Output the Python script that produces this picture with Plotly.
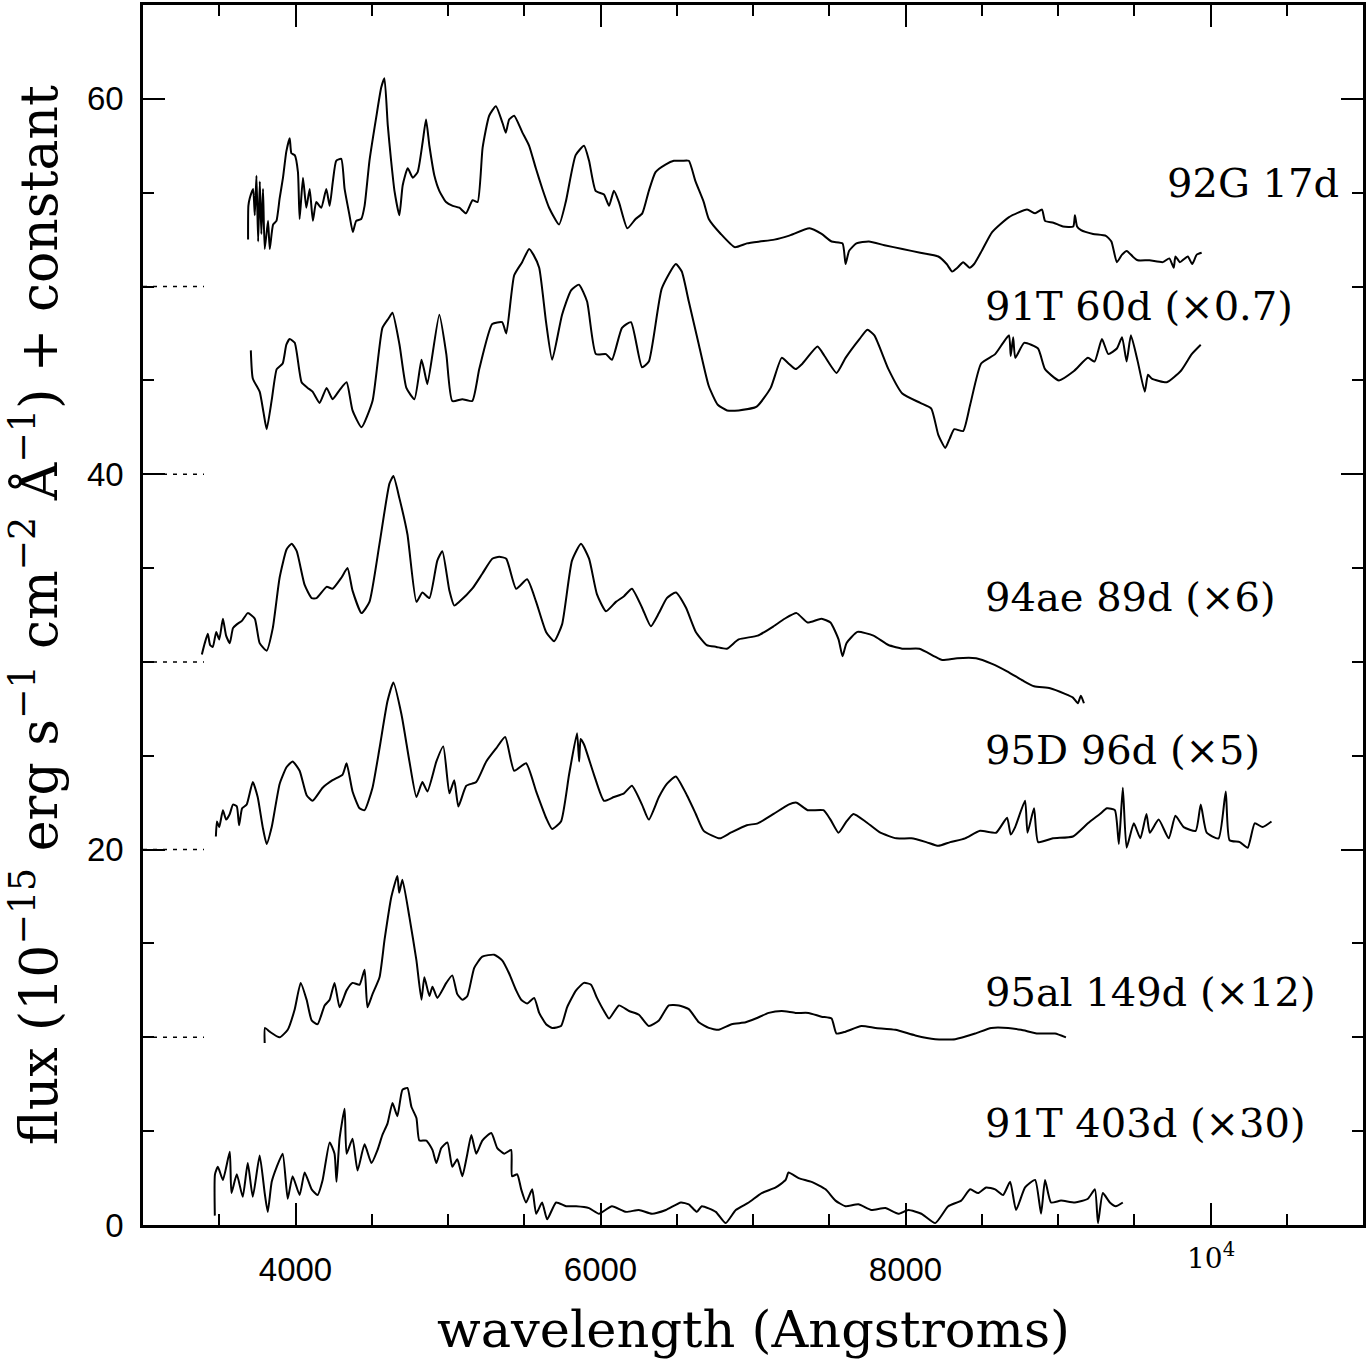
import plotly.graph_objects as go

# ---------------- data (wavelength in Angstrom, flux + constant) ----------------
sn92g_wl = [3689, 3691, 3700, 3722, 3733, 3744, 3755, 3766, 3776, 3787, 3798, 3820, 3831, 3853, 3875,
            3896, 3918, 3940, 3962, 3973, 3995, 4016, 4027, 4049, 4071, 4093, 4114, 4136, 4169, 4202,
            4224, 4245, 4267, 4300, 4322, 4354, 4376, 4398, 4431, 4453, 4485, 4529, 4562, 4583, 4605,
            4627, 4649, 4681, 4703, 4736, 4769, 4801, 4834, 4856, 4878, 4911, 4943, 4987, 5031, 5074,
            5118, 5161, 5194, 5227, 5270, 5314, 5358, 5379, 5401, 5434, 5488, 5532, 5576, 5619, 5663,
            5728, 5772, 5837, 5892, 5925, 5968, 6023, 6056, 6088, 6121, 6176, 6230, 6274, 6317, 6361,
            6426, 6481, 6535, 6579, 6623, 6677, 6710, 6789, 6880, 6960, 7044, 7140, 7233, 7371, 7450,
            7515, 7587, 7607, 7630, 7678, 7760, 7862, 7980, 8097, 8215, 8270, 8306, 8340, 8378, 8420,
            8450, 8500, 8568, 8679, 8797, 8850, 8895, 8915, 8970, 9033, 9100, 9111, 9125, 9151, 9230,
            9314, 9350, 9386, 9420, 9451, 9490, 9523, 9600, 9687, 9730, 9759, 9770, 9800, 9851, 9880,
            9910, 9942]
sn92g_fl = [52.5, 54.3, 54.7, 55.2, 53.8, 55.9, 52.4, 55.6, 52.8, 55.2, 52.0, 53.5, 52.0, 53.3, 53.5,
            54.7, 55.8, 57.2, 57.9, 57.1, 57.0, 56.1, 53.6, 55.8, 54.2, 55.2, 53.5, 54.5, 54.2, 55.2,
            54.3, 55.6, 56.7, 56.8, 55.2, 53.8, 52.9, 53.5, 53.6, 54.3, 56.7, 59.0, 60.6, 61.1, 58.6,
            56.7, 55.1, 53.8, 55.4, 56.3, 55.8, 56.1, 57.7, 58.9, 57.5, 55.9, 55.1, 54.5, 54.3, 54.2,
            53.9, 54.6, 54.5, 57.4, 59.1, 59.6, 58.7, 58.2, 58.9, 59.1, 58.2, 57.5, 56.3, 55.2, 54.2,
            53.3, 54.5, 57.0, 57.5, 56.7, 55.1, 54.9, 54.3, 55.1, 54.5, 53.1, 53.6, 53.9, 55.1, 56.1,
            56.5, 56.7, 56.7, 56.7, 55.6, 54.5, 53.6, 52.8, 52.1, 52.3, 52.4, 52.5, 52.7, 53.1, 52.8,
            52.4, 52.3, 51.2, 51.9, 52.3, 52.4, 52.2, 52.0, 51.8, 51.6, 51.2, 50.8, 51.0, 51.3, 51.0,
            51.2, 51.9, 52.9, 53.7, 54.1, 53.9, 54.1, 53.5, 53.4, 53.2, 53.2, 53.8, 53.2, 53.0, 52.8,
            52.7, 52.4, 51.3, 51.7, 51.9, 51.6, 51.4, 51.4, 51.3, 51.5, 51.0, 51.6, 51.3, 51.6, 51.2,
            51.7, 51.8]

sn91t60_wl = [3707, 3720, 3765, 3790, 3811, 3845, 3877, 3916, 3940, 3962, 3995, 4040, 4080, 4112, 4158,
              4204, 4243, 4290, 4335, 4374, 4433, 4505, 4570, 4610, 4636, 4682, 4727, 4780, 4826, 4845,
              4865, 4943, 4989, 5028, 5094, 5159, 5205, 5290, 5355, 5382, 5434, 5486, 5532, 5560, 5598,
              5643, 5683, 5748, 5807, 5859, 5912, 5970, 6036, 6075, 6141, 6200, 6272, 6317, 6402, 6494,
              6533, 6579, 6645, 6710, 6769, 6830, 6906, 7024, 7116, 7188, 7233, 7279, 7325, 7423, 7469,
              7548, 7607, 7698, 7750, 7796, 7888, 7979, 8097, 8169, 8215, 8261, 8290, 8320, 8378, 8424,
              8496, 8588, 8640, 8679, 8690, 8706, 8720, 8778, 8869, 8915, 9006, 9105, 9196, 9240, 9288,
              9330, 9386, 9420, 9450, 9478, 9523, 9569, 9590, 9615, 9713, 9805, 9877, 9936]
sn91t60_fl = [46.6, 45.1, 44.4, 43.3, 42.4, 44.0, 45.6, 45.9, 46.9, 47.2, 47.0, 44.9, 44.6, 44.4, 43.8,
              44.6, 44.0, 44.5, 44.9, 43.4, 42.5, 43.9, 47.8, 48.3, 48.6, 46.9, 44.6, 44.0, 46.1, 45.5,
              44.8, 48.5, 46.4, 43.9, 44.0, 43.9, 45.6, 48.0, 48.1, 47.5, 50.6, 51.3, 52.0, 51.7, 51.0,
              48.1, 46.1, 48.5, 49.8, 50.1, 49.2, 46.4, 46.4, 46.1, 47.8, 48.1, 45.7, 46.0, 49.9, 51.2,
              50.8, 49.2, 46.9, 44.7, 43.7, 43.4, 43.4, 43.6, 44.6, 46.2, 45.9, 45.6, 45.9, 46.8, 46.3,
              45.4, 46.2, 47.2, 47.7, 47.4, 45.6, 44.3, 43.8, 43.5, 42.1, 41.4, 41.9, 42.4, 42.3, 43.7,
              45.9, 46.4, 47.0, 47.4, 46.3, 47.3, 46.2, 47.0, 46.7, 45.6, 45.0, 45.5, 46.2, 46.0, 47.2,
              46.4, 46.7, 47.3, 46.0, 47.4, 46.0, 44.4, 45.3, 45.1, 44.9, 45.5, 46.4, 46.9]

sn94ae_wl = [3386, 3405, 3425, 3440, 3458, 3480, 3500, 3524, 3545, 3569, 3590, 3615, 3650, 3687, 3733,
             3765, 3811, 3851, 3896, 3942, 3975, 4008, 4060, 4106, 4138, 4204, 4243, 4302, 4341, 4374,
             4433, 4485, 4551, 4616, 4642, 4682, 4734, 4793, 4832, 4878, 4930, 4963, 5009, 5041, 5074,
             5159, 5225, 5290, 5336, 5382, 5447, 5519, 5578, 5643, 5696, 5748, 5813, 5872, 5925, 5977,
             6036, 6101, 6154, 6206, 6272, 6330, 6383, 6435, 6494, 6560, 6625, 6697, 6760, 6828, 6906,
             7031, 7135, 7207, 7286, 7358, 7449, 7508, 7561, 7587, 7613, 7685, 7790, 7888, 7986, 8091,
             8189, 8241, 8339, 8463, 8568, 8666, 8771, 8843, 8948, 9046, 9098, 9130, 9150, 9170]
sn94ae_fl = [30.4, 31.0, 31.5, 30.9, 30.8, 31.6, 31.2, 32.3, 31.4, 31.0, 31.8, 32.0, 32.2, 32.6, 32.3,
             31.0, 30.6, 31.8, 34.5, 36.0, 36.3, 35.9, 34.1, 33.4, 33.4, 34.0, 33.9, 34.5, 35.0, 33.8,
             32.6, 33.2, 36.3, 39.5, 39.9, 38.7, 36.8, 33.2, 33.7, 33.4, 35.4, 35.9, 33.8, 33.0, 33.2,
             33.9, 34.7, 35.5, 35.6, 35.5, 33.9, 34.4, 33.2, 31.6, 31.1, 32.0, 35.4, 36.3, 35.5, 33.6,
             32.7, 33.2, 33.5, 33.9, 32.9, 31.9, 32.6, 33.4, 33.7, 32.9, 31.6, 30.9, 30.8, 30.7, 31.2,
             31.4, 31.9, 32.3, 32.6, 32.1, 32.3, 32.1, 31.2, 30.3, 31.0, 31.6, 31.4, 30.9, 30.7, 30.7,
             30.3, 30.1, 30.2, 30.2, 29.9, 29.5, 29.0, 28.7, 28.6, 28.3, 28.1, 27.8, 28.2, 27.8]

sn95d_wl = [3478, 3485, 3500, 3524, 3545, 3569, 3590, 3615, 3630, 3650, 3680, 3720, 3752, 3785, 3811,
            3844, 3896, 3942, 3981, 4027, 4073, 4112, 4178, 4243, 4309, 4335, 4374, 4420, 4453, 4505,
            4551, 4603, 4642, 4695, 4747, 4793, 4832, 4865, 4924, 4969, 5009, 5041, 5068, 5120, 5185,
            5251, 5316, 5375, 5434, 5512, 5578, 5643, 5683, 5741, 5794, 5846, 5860, 5870, 5892, 5957,
            6023, 6088, 6154, 6206, 6272, 6317, 6383, 6435, 6494, 6560, 6625, 6677, 6782, 6854, 6959,
            7031, 7135, 7233, 7286, 7358, 7462, 7508, 7561, 7613, 7659, 7737, 7835, 7940, 8038, 8136,
            8215, 8293, 8391, 8489, 8594, 8666, 8690, 8719, 8784, 8800, 8843, 8870, 8967, 9098, 9196,
            9275, 9321, 9373, 9399, 9425, 9450, 9497, 9540, 9580, 9602, 9660, 9726, 9770, 9824, 9903,
            9936, 9975, 10053, 10100, 10125, 10192, 10244, 10290, 10342, 10400]
sn95d_fl = [20.7, 21.5, 21.2, 22.1, 21.6, 21.9, 22.4, 22.3, 21.3, 22.2, 22.4, 23.6, 22.8, 21.2, 20.3,
            21.2, 23.5, 24.4, 24.7, 24.2, 22.9, 22.6, 23.3, 23.7, 24.0, 24.6, 23.1, 22.2, 22.1, 23.3,
            25.4, 27.9, 28.9, 27.2, 24.7, 22.8, 23.6, 23.1, 24.7, 25.5, 23.0, 23.7, 22.3, 23.4, 23.6,
            24.7, 25.4, 26.0, 24.2, 24.6, 23.1, 21.7, 21.1, 21.5, 24.0, 26.2, 24.7, 25.9, 25.6, 24.0,
            22.6, 22.8, 23.0, 23.4, 22.4, 21.6, 22.8, 23.5, 23.9, 23.0, 21.9, 21.0, 20.6, 20.9, 21.3,
            21.4, 21.9, 22.4, 22.5, 22.1, 22.1, 21.6, 20.9, 21.5, 21.9, 21.5, 20.9, 20.6, 20.6, 20.4,
            20.2, 20.4, 20.6, 21.0, 20.9, 21.7, 20.8, 21.2, 22.6, 20.9, 22.2, 20.4, 20.6, 20.7, 21.4,
            21.9, 22.2, 22.1, 20.3, 23.3, 20.1, 21.4, 20.6, 21.9, 20.9, 21.6, 20.6, 21.8, 21.2, 21.0,
            22.4, 20.9, 20.6, 23.1, 20.5, 20.4, 20.1, 21.4, 21.2, 21.5]

sn95al_wl = [3798, 3800, 3831, 3896, 3949, 3995, 4034, 4073, 4106, 4145, 4191, 4224, 4256, 4289, 4335,
             4374, 4420, 4453, 4472, 4505, 4551, 4584, 4629, 4668, 4680, 4701, 4747, 4793, 4826, 4845,
             4878, 4898, 4930, 4989, 5028, 5061, 5094, 5127, 5172, 5225, 5303, 5355, 5401, 5447, 5480,
             5519, 5565, 5598, 5643, 5683, 5741, 5781, 5840, 5892, 5938, 5977, 6023, 6056, 6121, 6187,
             6252, 6317, 6383, 6448, 6514, 6579, 6645, 6710, 6775, 6860, 6952, 7018, 7103, 7188, 7279,
             7364, 7449, 7515, 7547, 7606, 7711, 7803, 7934, 8064, 8195, 8326, 8457, 8562, 8673, 8758,
             8869, 8980, 9052]
sn95al_fl = [9.7, 10.5, 10.3, 10.0, 10.4, 11.5, 12.9, 12.0, 10.9, 10.7, 11.7, 12.0, 12.9, 11.6, 12.5,
             12.9, 12.8, 13.6, 11.6, 12.3, 13.2, 15.2, 17.5, 18.6, 17.7, 18.4, 16.4, 14.1, 12.0, 13.2,
             12.2, 12.7, 12.1, 12.9, 13.3, 12.3, 12.0, 12.2, 13.7, 14.3, 14.4, 14.1, 13.4, 12.5, 12.0,
             11.8, 12.1, 11.3, 10.7, 10.5, 10.6, 11.6, 12.5, 12.9, 12.8, 12.1, 11.4, 11.0, 11.7, 11.4,
             11.2, 10.6, 10.9, 11.7, 11.7, 11.5, 10.8, 10.5, 10.4, 10.7, 10.8, 11.0, 11.3, 11.4, 11.3,
             11.3, 11.1, 11.0, 10.2, 10.3, 10.6, 10.5, 10.4, 10.1, 9.9, 9.9, 10.2, 10.5, 10.5, 10.4,
             10.2, 10.2, 10.0]

sn91t403_wl = [3471, 3472, 3491, 3524, 3569, 3580, 3615, 3654, 3687, 3720, 3765, 3798, 3818, 3844, 3877,
               3916, 3949, 3981, 4027, 4060, 4106, 4145, 4178, 4224, 4256, 4269, 4289, 4322, 4335, 4374,
               4407, 4453, 4498, 4538, 4570, 4603, 4636, 4668, 4701, 4734, 4760, 4793, 4812, 4858, 4898,
               4924, 4956, 4996, 5028, 5061, 5094, 5127, 5153, 5185, 5225, 5284, 5323, 5369, 5414, 5420,
               5454, 5480, 5512, 5552, 5578, 5617, 5650, 5709, 5774, 5840, 5925, 5990, 6075, 6167, 6252,
               6337, 6429, 6527, 6579, 6632, 6664, 6756, 6821, 6887, 6972, 7057, 7149, 7214, 7233, 7299,
               7384, 7476, 7541, 7606, 7691, 7776, 7868, 7953, 8019, 8104, 8195, 8280, 8365, 8424, 8476,
               8529, 8588, 8640, 8686, 8725, 8784, 8850, 8889, 8915, 8954, 9020, 9111, 9196, 9242, 9262,
               9294, 9340, 9379, 9425]
sn91t403_fl = [0.5, 2.7, 3.1, 2.4, 3.9, 1.7, 2.7, 1.5, 3.3, 1.5, 3.7, 1.7, 0.7, 2.3, 3.1,
               3.8, 1.4, 2.6, 1.6, 2.8, 1.9, 1.6, 2.4, 4.4, 3.8, 2.3, 4.6, 6.2, 3.8, 4.6,
               2.9, 4.3, 3.3, 4.0, 4.8, 5.4, 6.5, 5.8, 7.2, 7.3, 6.3, 5.7, 4.5, 4.5, 4.0,
               3.3, 4.1, 4.4, 3.1, 3.5, 2.6, 3.8, 4.8, 3.8, 4.5, 4.9, 4.1, 3.8, 4.0, 2.6,
               2.7, 1.9, 1.2, 1.9, 0.6, 1.2, 0.3, 1.2, 1.0, 1.0, 0.9, 0.6, 1.0, 0.7, 0.8,
               0.6, 0.8, 1.2, 1.1, 0.7, 1.0, 0.7, 0.1, 0.8, 1.2, 1.7, 2.0, 2.4, 2.8, 2.5,
               2.3, 1.9, 1.3, 1.0, 1.1, 0.8, 0.9, 0.6, 0.8, 0.6, 0.1, 1.0, 1.3, 1.9, 1.7,
               2.0, 1.9, 1.6, 2.3, 0.8, 2.0, 2.4, 0.6, 2.4, 1.2, 1.3, 1.2, 1.4, 1.9, 0.1,
               1.7, 1.2, 1.0, 1.2]

spectra = [
    (sn92g_wl, sn92g_fl),
    (sn91t60_wl, sn91t60_fl),
    (sn94ae_wl, sn94ae_fl),
    (sn95d_wl, sn95d_fl),
    (sn95al_wl, sn95al_fl),
    (sn91t403_wl, sn91t403_fl),
]

labels = ["92G 17d", "91T 60d (×0.7)", "94ae 89d (×6)", "95D 96d (×5)",
          "95al 149d (×12)", "91T 403d (×30)"]

# zero levels of the offset spectra (drawn as short dotted marks)
baselines = [10, 20, 30, 40, 50]
baseline_wl = [3000, 3400]

x_major = [4000, 6000, 8000, 10000]
x_major_text = ["4000", "6000", "8000", ""]

# label anchor points (wavelength, flux)
label_pos = [(9700, 55.5), (8505, 48.95), (8505, 33.45), (8505, 25.3), (8505, 12.4), (8505, 5.45)]

SERIF = "DejaVu Serif"
SANS = "Liberation Sans"

fig = go.Figure()

for lvl in baselines:
    fig.add_trace(go.Scatter(x=baseline_wl, y=[lvl, lvl], mode="lines",
                             line=dict(color="black", width=1.5, dash="4px,6px"),
                             hoverinfo="skip", showlegend=False))

for wl, fl in spectra:
    fig.add_trace(go.Scatter(x=wl, y=fl, mode="lines",
                             line=dict(color="black", width=2, shape="spline", smoothing=0.5),
                             showlegend=False))

for (lx, ly), txt in zip(label_pos, labels):
    fig.add_annotation(x=lx, y=ly, xref="x", yref="y", text=txt, showarrow=False,
                       xanchor="left", yanchor="middle",
                       font=dict(family=SERIF, size=40, color="black"))

# 10^4 tick label
fig.add_annotation(x=10000, y=-0.009, xref="x", yref="paper", text="10<sup>4</sup>",
                   showarrow=False, xanchor="center", yanchor="top",
                   font=dict(family=SERIF, size=28, color="black"))

# axis titles
fig.add_annotation(x=0.5, y=-0.0859, xref="paper", yref="paper",
                   text="wavelength (Angstroms)", showarrow=False,
                   xanchor="center", yanchor="middle",
                   font=dict(family=SERIF, size=51, color="black"))
fig.add_annotation(x=-0.0885, y=0.5, xref="paper", yref="paper",
                   text="flux (10<sup>−15</sup> erg s<sup>−1</sup> cm<sup>−2</sup> Å<sup>−1</sup>) + constant",
                   showarrow=False, textangle=-90, xanchor="center", yanchor="middle",
                   font=dict(family=SERIF, size=52, color="black"))

axis_common = dict(showline=True, linecolor="black", linewidth=2.5, mirror="allticks",
                   ticks="inside", ticklen=22, tickwidth=2, tickcolor="black",
                   showgrid=False, zeroline=False)

fig.update_xaxes(range=[3000, 11000], tickmode="array", tickvals=x_major, ticktext=x_major_text,
                 minor=dict(tickmode="linear", tick0=3000, dtick=500, ticks="inside",
                            ticklen=11, tickwidth=2, tickcolor="black", showgrid=False),
                 tickfont=dict(family=SANS, size=33, color="black"), ticklabelstandoff=14,
                 **axis_common)
fig.update_yaxes(range=[0, 65], tickmode="linear", tick0=0, dtick=20,
                 minor=dict(tickmode="linear", tick0=0, dtick=5, ticks="inside",
                            ticklen=11, tickwidth=2, tickcolor="black", showgrid=False),
                 tickfont=dict(family=SANS, size=33, color="black"), ticklabelstandoff=10,
                 **axis_common)

fig.update_layout(width=1368, height=1362, margin=dict(l=143, r=2, t=3, b=137),
                  plot_bgcolor="white", paper_bgcolor="white", showlegend=False)

fig.write_html("out.html", config={"displayModeBar": False},
               post_script="document.body.style.margin='0';document.body.style.overflow='hidden';")
